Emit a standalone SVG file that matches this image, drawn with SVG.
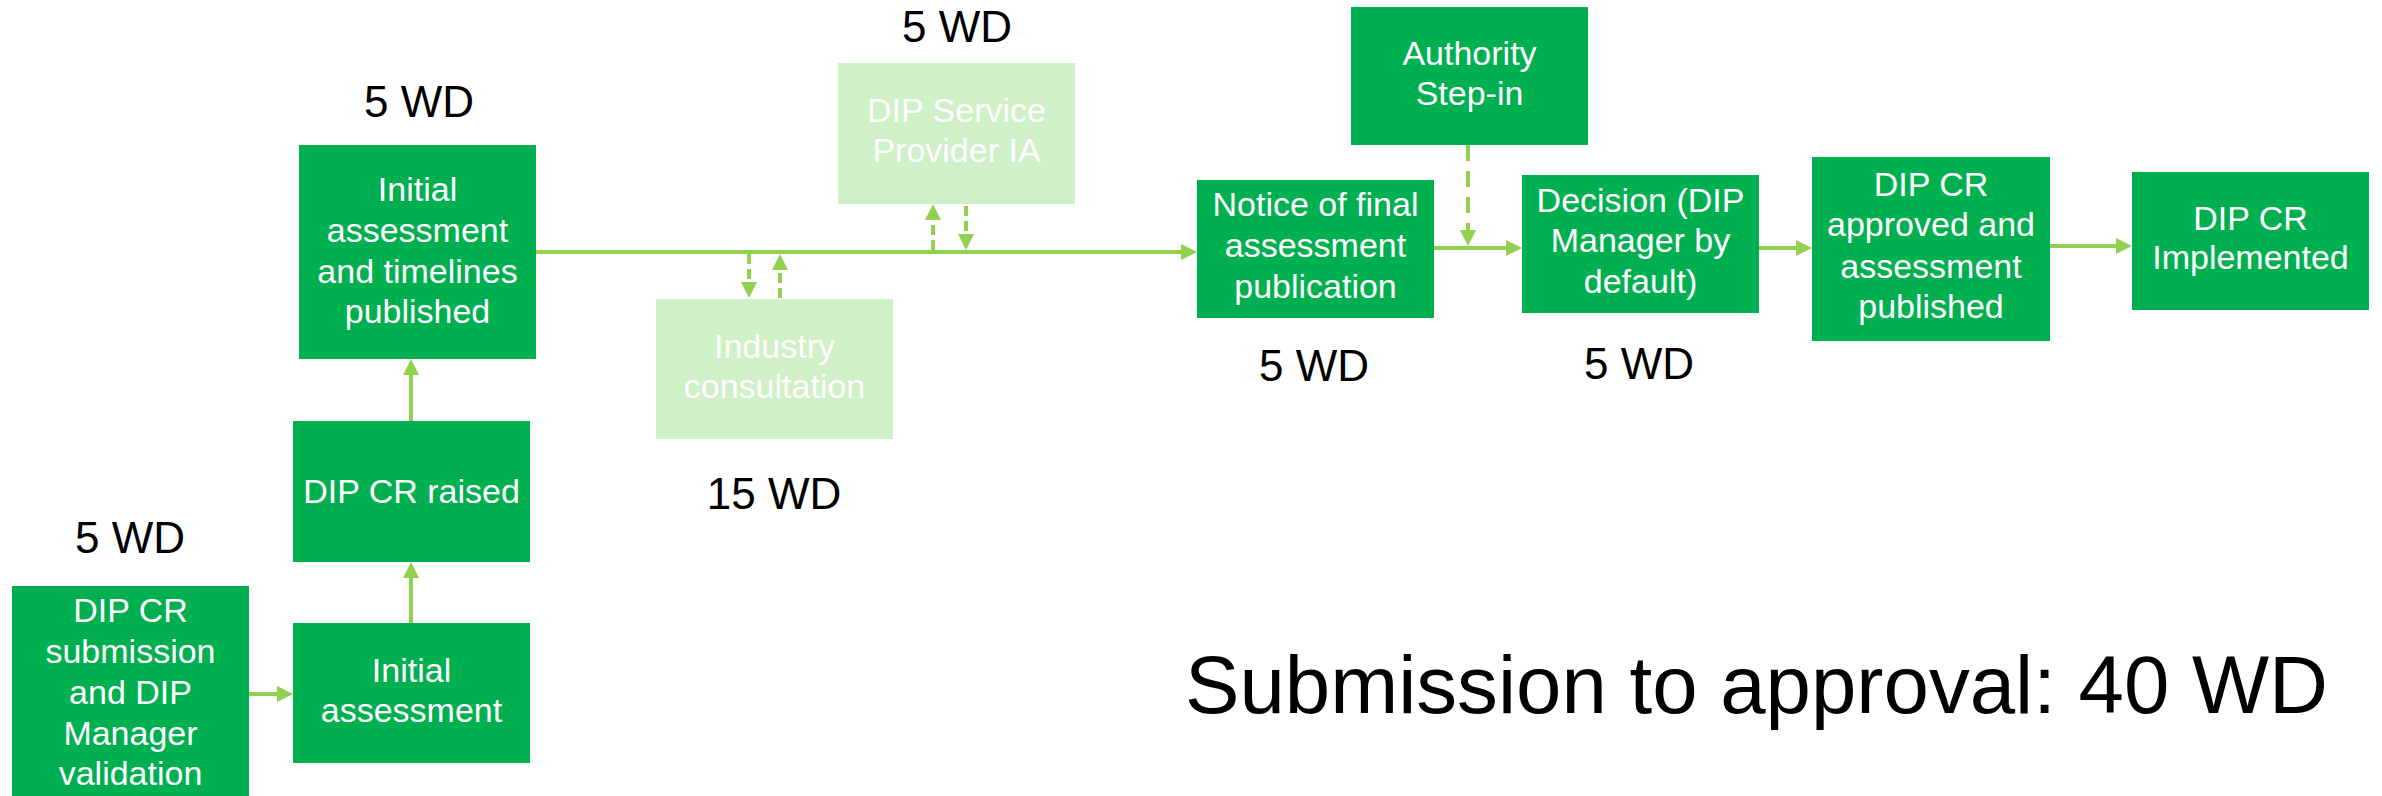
<svg xmlns="http://www.w3.org/2000/svg" width="2382" height="796" viewBox="0 0 2382 796">
<style>
.dk{fill:#00B050}
.lt{fill:#D0F1C8}
.bt{font-family:"Liberation Sans",Arial,sans-serif;font-size:34px;fill:#FFFFFF;text-anchor:middle}
.lb{font-family:"Liberation Sans",Arial,sans-serif;font-size:44px;fill:#000000;text-anchor:middle}
.big{font-family:"Liberation Sans",Arial,sans-serif;font-size:81px;fill:#000000}
.c{stroke:#92D050;stroke-width:4;fill:none}
.d1{stroke-dasharray:10 5}
.d2{stroke-dasharray:16 10}
</style>
<defs>
<marker id="ah" markerUnits="userSpaceOnUse" markerWidth="16" markerHeight="16" refX="4" refY="8" orient="auto">
<path d="M0,0 L16,8 L0,16 z" fill="#92D050"/>
</marker>
</defs>
<rect width="2382" height="796" fill="#FFFFFF"/>

<g id="connectors">
<line class="c" x1="249" y1="694" x2="281" y2="694" marker-end="url(#ah)"/>
<line class="c" x1="411" y1="623" x2="411" y2="574" marker-end="url(#ah)"/>
<line class="c" x1="411" y1="421" x2="411" y2="371" marker-end="url(#ah)"/>
<line class="c" x1="536" y1="252" x2="1185" y2="252" marker-end="url(#ah)"/>
<line class="c d1" x1="749" y1="254" x2="749" y2="286" marker-end="url(#ah)"/>
<line class="c d1" x1="780" y1="298" x2="780" y2="266" marker-end="url(#ah)"/>
<line class="c d1" x1="933" y1="250" x2="933" y2="216" marker-end="url(#ah)"/>
<line class="c d1" x1="966" y1="206" x2="966" y2="238" marker-end="url(#ah)"/>
<line class="c" x1="1434" y1="248" x2="1510" y2="248" marker-end="url(#ah)"/>
<line class="c d2" x1="1468" y1="145" x2="1468" y2="234" marker-end="url(#ah)"/>
<line class="c" x1="1759" y1="248" x2="1800" y2="248" marker-end="url(#ah)"/>
<line class="c" x1="2050" y1="246" x2="2120" y2="246" marker-end="url(#ah)"/>
</g>

<g id="submission">
<rect class="dk" x="12" y="586" width="237" height="212"/>
<text class="bt" x="130.5" y="622">DIP CR</text>
<text class="bt" x="130.5" y="663">submission</text>
<text class="bt" x="130.5" y="704">and DIP</text>
<text class="bt" x="130.5" y="745">Manager</text>
<text class="bt" x="130.5" y="785">validation</text>
</g>
<g id="initial">
<rect class="dk" x="293" y="623" width="237" height="140"/>
<text class="bt" x="411.5" y="682">Initial</text>
<text class="bt" x="411.5" y="722">assessment</text>
</g>
<g id="raised">
<rect class="dk" x="293" y="421" width="237" height="141"/>
<text class="bt" x="411.5" y="503">DIP CR raised</text>
</g>
<g id="timelines">
<rect class="dk" x="299" y="145" width="237" height="214"/>
<text class="bt" x="417.5" y="201">Initial</text>
<text class="bt" x="417.5" y="242">assessment</text>
<text class="bt" x="417.5" y="283">and timelines</text>
<text class="bt" x="417.5" y="323">published</text>
</g>
<g id="industry">
<rect class="lt" x="656" y="299" width="237" height="140"/>
<text class="bt" x="774.5" y="358">Industry</text>
<text class="bt" x="774.5" y="398">consultation</text>
</g>
<g id="service">
<rect class="lt" x="838" y="63" width="237" height="141"/>
<text class="bt" x="956.5" y="122">DIP Service</text>
<text class="bt" x="956.5" y="162">Provider IA</text>
</g>
<g id="notice">
<rect class="dk" x="1197" y="180" width="237" height="138"/>
<text class="bt" x="1315.5" y="216">Notice of final</text>
<text class="bt" x="1315.5" y="257">assessment</text>
<text class="bt" x="1315.5" y="298">publication</text>
</g>
<g id="authority">
<rect class="dk" x="1351" y="7" width="237" height="138"/>
<text class="bt" x="1469.5" y="65">Authority</text>
<text class="bt" x="1469.5" y="105">Step-in</text>
</g>
<g id="decision">
<rect class="dk" x="1522" y="175" width="237" height="138"/>
<text class="bt" x="1640.5" y="212">Decision (DIP</text>
<text class="bt" x="1640.5" y="252">Manager by</text>
<text class="bt" x="1640.5" y="293">default)</text>
</g>
<g id="approved">
<rect class="dk" x="1812" y="157" width="238" height="184"/>
<text class="bt" x="1931" y="196">DIP CR</text>
<text class="bt" x="1931" y="236">approved and</text>
<text class="bt" x="1931" y="278">assessment</text>
<text class="bt" x="1931" y="318">published</text>
</g>
<g id="implemented">
<rect class="dk" x="2132" y="172" width="237" height="138"/>
<text class="bt" x="2250.5" y="230">DIP CR</text>
<text class="bt" x="2250.5" y="269">Implemented</text>
</g>

<g id="labels">
<text class="lb" x="130" y="553">5 WD</text>
<text class="lb" x="419" y="117">5 WD</text>
<text class="lb" x="957" y="42">5 WD</text>
<text class="lb" x="774" y="509">15 WD</text>
<text class="lb" x="1314" y="381">5 WD</text>
<text class="lb" x="1639" y="379">5 WD</text>
<text class="big" x="1185" y="713" textLength="1143" lengthAdjust="spacingAndGlyphs">Submission to approval: 40 WD</text>
</g>
</svg>
